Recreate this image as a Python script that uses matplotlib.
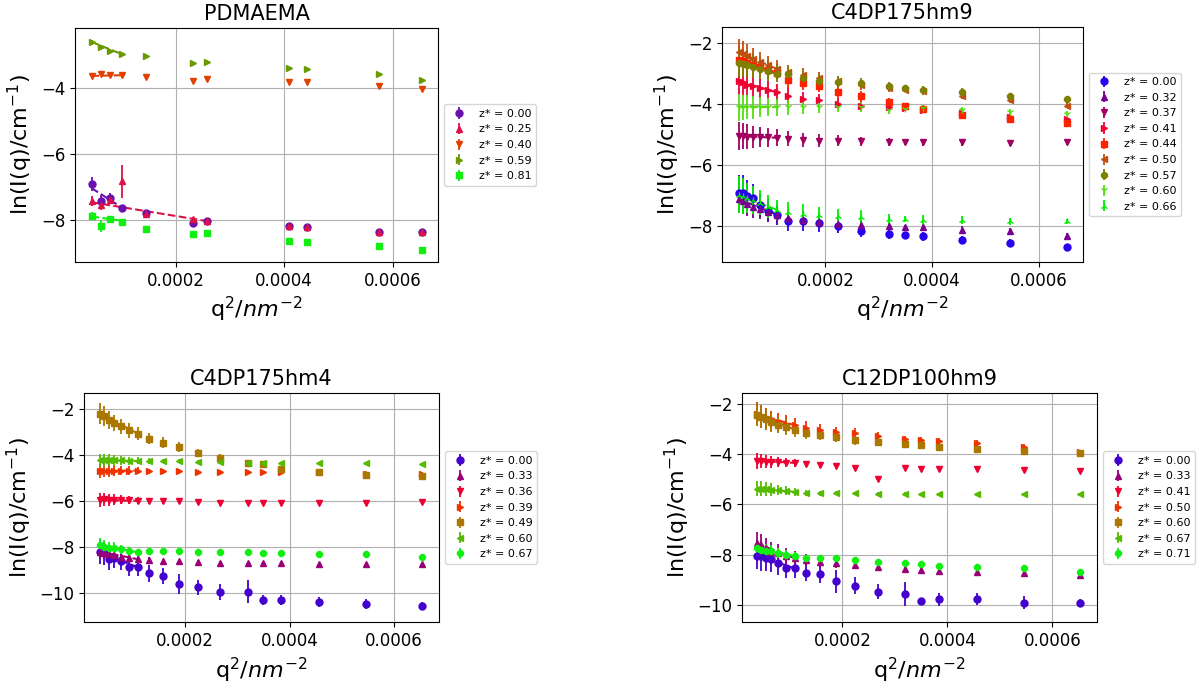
import matplotlib

matplotlib.use("Agg")
import matplotlib.pyplot as plt

# ---- PDMAEMA ----
q_pdmaema = [4.54e-5, 6.28e-5, 8.01e-5, 1.011e-4, 1.462e-4, 2.315e-4,
             2.575e-4, 4.09e-4, 4.417e-4, 5.74e-4, 6.53e-4]
labels_pdmaema = ["z* = 0.00", "z* = 0.25", "z* = 0.40", "z* = 0.59", "z* = 0.81"]
pdmaema_000 = [-6.91, -7.43, -7.33, -7.62, -7.80, -8.10, -8.03, -8.17, -8.21, -8.35, -8.35]
pdmaema_025 = [-7.43, -7.55, -7.38, -6.82, -7.82, -7.97, -8.03, -8.17, -8.21, -8.35, -8.35]
pdmaema_040 = [-3.63, -3.58, -3.61, -3.61, -3.66, -3.77, -3.71, -3.81, -3.82, -3.94, -4.04]
pdmaema_059 = [-2.61, -2.76, -2.88, -2.97, -3.03, -3.24, -3.20, -3.39, -3.43, -3.58, -3.74]
pdmaema_081 = [-7.89, -8.17, -7.97, -8.05, -8.26, -8.42, -8.40, -8.64, -8.67, -8.79, -8.90]
err_pdmaema_000 = [0.22, 0.18, 0.15, 0.08, 0.05, 0.05, 0.05, 0.04, 0.04, 0.04, 0.04]
err_pdmaema_025 = [0.15, 0.15, 0.12, 0.50, 0.05, 0.05, 0.05, 0.04, 0.04, 0.04, 0.04]
err_pdmaema_top = [0.07, 0.06, 0.05, 0.04, 0.04, 0.04, 0.04, 0.03, 0.03, 0.03, 0.03]
err_pdmaema_081 = [0.12, 0.18, 0.08, 0.06, 0.05, 0.05, 0.05, 0.04, 0.04, 0.04, 0.04]
fit_pdmaema_end = [3, 6, 3, 3, 3]
fit_pdmaema_y0 = [-7.03, -7.46, -3.63, -2.60, -7.89]
fit_pdmaema_y1 = [-7.62, -8.03, -3.61, -2.97, -8.02]

# ---- shared q grid of the three copolymer samples ----
q_copolymer = [3.7e-5, 4.5e-5, 5.35e-5, 6.35e-5, 7.65e-5, 9.15e-5, 1.09e-4, 1.30e-4,
               1.575e-4, 1.88e-4, 2.24e-4, 2.67e-4, 3.2e-4, 3.495e-4, 3.83e-4,
               4.57e-4, 5.46e-4, 6.53e-4]

# ---- C4DP175hm9 ----
labels_hm9 = ["z* = 0.00", "z* = 0.32", "z* = 0.37", "z* = 0.41", "z* = 0.44",
              "z* = 0.50", "z* = 0.57", "z* = 0.60", "z* = 0.66"]
hm9_000 = [-6.93, -6.93, -7.01, -7.09, -7.31, -7.50, -7.64, -7.84, -7.84, -7.92, -8.02, -8.16,
           -8.27, -8.31, -8.35, -8.48, -8.57, -8.69]
hm9_032 = [-7.12, -7.20, -7.29, -7.37, -7.46, -7.54, -7.64, -7.75, -7.81, -7.87, -7.94, -7.98,
           -8.02, -8.05, -8.05, -8.13, -8.16, -8.33]
hm9_037 = [-5.05, -5.06, -5.07, -5.08, -5.09, -5.10, -5.11, -5.14, -5.18, -5.20, -5.20, -5.23,
           -5.25, -5.26, -5.26, -5.26, -5.29, -5.26]
hm9_041 = [-3.24, -3.29, -3.38, -3.42, -3.49, -3.53, -3.62, -3.73, -3.83, -3.88, -3.99, -4.06,
           -4.10, -4.14, -4.19, -4.30, -4.43, -4.50]
hm9_044 = [-2.55, -2.60, -2.66, -2.72, -2.80, -2.88, -2.97, -3.21, -3.31, -3.42, -3.61, -3.75,
           -3.95, -4.06, -4.17, -4.36, -4.48, -4.61]
hm9_050 = [-2.30, -2.36, -2.44, -2.52, -2.62, -2.73, -2.85, -2.96, -3.04, -3.15, -3.26, -3.37,
           -3.48, -3.53, -3.59, -3.73, -3.86, -4.06]
hm9_057 = [-2.66, -2.69, -2.73, -2.77, -2.85, -2.93, -3.01, -3.01, -3.15, -3.23, -3.27, -3.31,
           -3.40, -3.48, -3.53, -3.61, -3.73, -3.84]
hm9_060 = [-4.11, -4.11, -4.11, -4.11, -4.11, -4.11, -4.11, -4.11, -4.11, -4.10, -4.10, -4.11,
           -4.19, -4.15, -4.14, -4.21, -4.28, -4.32]
hm9_066 = [-6.98, -7.02, -7.08, -7.15, -7.24, -7.37, -7.48, -7.56, -7.62, -7.64, -7.67, -7.70,
           -7.78, -7.78, -7.81, -7.81, -7.86, -7.86]
err_hm9_low = [0.60, 0.60, 0.50, 0.45, 0.40, 0.38, 0.33, 0.33, 0.33, 0.27, 0.22, 0.22, 0.16,
               0.09, 0.16, 0.13, 0.13, 0.09]
err_hm9_top = [0.45, 0.42, 0.40, 0.37, 0.33, 0.30, 0.28, 0.25, 0.22, 0.20, 0.18, 0.16, 0.13,
               0.08, 0.12, 0.12, 0.10, 0.08]
fit_hm9_y0 = [-6.90, -7.12, -5.05, -3.25, -2.55, -2.30, -2.66, -4.11, -6.98]
fit_hm9_y1 = [-7.64, -7.64, -5.11, -3.62, -2.97, -2.85, -3.01, -4.11, -7.48]

# ---- C4DP175hm4 ----
labels_hm4 = ["z* = 0.00", "z* = 0.33", "z* = 0.36", "z* = 0.39", "z* = 0.49",
              "z* = 0.60", "z* = 0.67"]
hm4_000 = [-8.21, -8.25, -8.50, -8.47, -8.59, -8.87, -8.86, -9.13, -9.24, -9.58, -9.73, -9.93,
           -9.93, -10.27, -10.29, -10.38, -10.46, -10.53]
hm4_033 = [-8.18, -8.22, -8.28, -8.34, -8.40, -8.47, -8.51, -8.54, -8.60, -8.61, -8.63, -8.67,
           -8.69, -8.69, -8.69, -8.73, -8.73, -8.74]
hm4_036 = [-5.94, -5.91, -5.93, -5.93, -5.93, -5.94, -5.97, -5.97, -6.00, -6.00, -6.04, -6.06,
           -6.06, -6.06, -6.07, -6.07, -6.06, -6.04]
hm4_039 = [-4.67, -4.67, -4.66, -4.66, -4.66, -4.66, -4.66, -4.69, -4.69, -4.69, -4.70, -4.70,
           -4.71, -4.73, -4.73, -4.71, -4.79, -4.82]
hm4_049 = [-2.19, -2.30, -2.48, -2.59, -2.74, -2.91, -3.05, -3.27, -3.44, -3.63, -3.88, -4.11,
           -4.33, -4.38, -4.57, -4.72, -4.83, -4.89]
hm4_060 = [-4.22, -4.22, -4.22, -4.22, -4.22, -4.24, -4.24, -4.25, -4.25, -4.25, -4.28, -4.30,
           -4.31, -4.31, -4.32, -4.35, -4.35, -4.38]
hm4_067 = [-7.89, -7.96, -8.01, -8.01, -8.08, -8.15, -8.21, -8.17, -8.17, -8.17, -8.18, -8.20,
           -8.21, -8.24, -8.24, -8.28, -8.28, -8.41]
err_hm4_low = [0.53, 0.50, 0.48, 0.43, 0.40, 0.36, 0.36, 0.36, 0.36, 0.43, 0.32, 0.36, 0.50,
               0.22, 0.22, 0.22, 0.22, 0.14]
err_hm4_top = [0.46, 0.43, 0.39, 0.36, 0.32, 0.32, 0.29, 0.25, 0.22, 0.22, 0.17, 0.17, 0.14,
               0.12, 0.12, 0.14, 0.14, 0.12]
err_hm4_flat = [0.30, 0.28, 0.26, 0.24, 0.20, 0.18, 0.15, 0.12, 0.10, 0.08, 0.07, 0.06, 0.06,
                0.05, 0.05, 0.05, 0.05, 0.05]
fit_hm4_y0 = [-8.21, -8.18, -5.94, -4.67, -2.19, -4.22, -7.90]
fit_hm4_y1 = [-8.86, -8.51, -5.97, -4.66, -3.05, -4.24, -8.21]

# ---- C12DP100hm9 ----
labels_c12 = ["z* = 0.00", "z* = 0.33", "z* = 0.41", "z* = 0.50", "z* = 0.60",
              "z* = 0.67", "z* = 0.71"]
c12_000 = [-8.03, -8.05, -8.11, -8.17, -8.31, -8.54, -8.54, -8.71, -8.77, -9.06, -9.23, -9.47,
           -9.56, -9.83, -9.76, -9.75, -9.91, -9.93]
c12_033 = [-7.55, -7.61, -7.74, -7.88, -7.94, -8.05, -8.14, -8.21, -8.27, -8.31, -8.40, -8.50,
           -8.57, -8.60, -8.63, -8.68, -8.73, -8.81]
c12_041 = [-4.28, -4.28, -4.31, -4.31, -4.31, -4.35, -4.35, -4.40, -4.44, -4.47, -4.54, -5.01,
           -4.57, -4.59, -4.59, -4.61, -4.64, -4.67]
c12_050 = [-2.40, -2.50, -2.59, -2.69, -2.73, -2.79, -2.86, -2.96, -3.03, -3.12, -3.16, -3.28,
           -3.40, -3.43, -3.47, -3.58, -3.72, -3.94]
c12_060 = [-2.44, -2.53, -2.63, -2.73, -2.83, -2.92, -3.03, -3.16, -3.23, -3.33, -3.45, -3.52,
           -3.61, -3.65, -3.72, -3.81, -3.89, -3.95]
c12_067 = [-5.37, -5.37, -5.39, -5.41, -5.43, -5.46, -5.50, -5.53, -5.56, -5.56, -5.56, -5.58,
           -5.58, -5.59, -5.60, -5.60, -5.60, -5.59]
c12_071 = [-7.74, -7.81, -7.84, -7.84, -7.94, -8.01, -8.05, -8.11, -8.14, -8.14, -8.21, -8.30,
           -8.34, -8.38, -8.44, -8.47, -8.51, -8.67]
err_c12_low = [0.53, 0.59, 0.53, 0.53, 0.50, 0.40, 0.40, 0.33, 0.37, 0.46, 0.33, 0.29, 0.46,
               0.10, 0.26, 0.24, 0.26, 0.16]
err_c12_top = [0.46, 0.45, 0.42, 0.38, 0.35, 0.32, 0.28, 0.25, 0.22, 0.20, 0.18, 0.15, 0.13,
               0.10, 0.12, 0.12, 0.10, 0.08]
err_c12_flat = [0.30, 0.28, 0.26, 0.24, 0.20, 0.18, 0.15, 0.12, 0.10, 0.08, 0.07, 0.06, 0.06,
                0.05, 0.05, 0.05, 0.05, 0.05]
fit_c12_y0 = [-8.03, -7.55, -4.28, -2.40, -2.44, -5.37, -7.74]
fit_c12_y1 = [-8.54, -8.14, -4.35, -2.86, -3.03, -5.50, -8.05]

MARKERS = ["o", "^", "v", ">", "s", "<", "8", "1", "2"]


def draw_panel(axis, title, q, series, errors, labels, colors, fit_end, fit_y0, fit_y1,
               markers, xlim, ylim, yticks):
    for i, values in enumerate(series):
        axis.errorbar(
            q,
            values,
            yerr=errors[i],
            fmt=markers[i],
            color=colors[i],
            markersize=5,
            elinewidth=1.3,
            label=labels[i],
        )
        end = fit_end[i]
        axis.plot(
            [q[0], q[end]],
            [fit_y0[i], fit_y1[i]],
            linestyle="--",
            linewidth=1.5,
            color=colors[i],
        )

    axis.set_title(title, fontsize=15)
    axis.set_xlim(*xlim)
    axis.set_ylim(*ylim)
    axis.set_xticks([0.0002, 0.0004, 0.0006])
    axis.set_xticklabels(["0.0002", "0.0004", "0.0006"])
    axis.set_yticks(yticks)
    axis.tick_params(labelsize=12)
    axis.set_xlabel(r"q$^2$/$nm^{-2}$", fontsize=16)
    axis.set_ylabel(r"ln(I(q)/cm$^{-1}$)", fontsize=16)
    axis.grid(True)
    axis.legend(
        loc="center left",
        bbox_to_anchor=(1.0, 0.5),
        fontsize=8,
    )


def main():
    figure = plt.figure(figsize=(11.98, 6.84), dpi=100)

    ax1 = figure.add_axes([0.0626, 0.617, 0.303, 0.342])
    ax2 = figure.add_axes([0.6027, 0.617, 0.3013, 0.3436])
    ax3 = figure.add_axes([0.0701, 0.0906, 0.2963, 0.3348])
    ax4 = figure.add_axes([0.6194, 0.0906, 0.2963, 0.3348])

    draw_panel(
        ax1, "PDMAEMA", q_pdmaema,
        [pdmaema_000, pdmaema_025, pdmaema_040, pdmaema_059, pdmaema_081],
        [err_pdmaema_000, err_pdmaema_025, err_pdmaema_top, err_pdmaema_top, err_pdmaema_081],
        labels_pdmaema,
        ["#6a10b0", "#dd1148", "#e04000", "#6a9a00", "#11ee11"],
        fit_pdmaema_end, fit_pdmaema_y0, fit_pdmaema_y1,
        ["o", "^", "v", ">", "s"],
        (1.5e-5, 6.83e-4), (-9.27, -2.18), [-8, -6, -4],
    )

    draw_panel(
        ax2, "C4DP175hm9", q_copolymer,
        [hm9_000, hm9_032, hm9_037, hm9_041, hm9_044, hm9_050, hm9_057, hm9_060, hm9_066],
        [err_hm9_low, err_hm9_top, err_hm9_top, err_hm9_top, err_hm9_top, err_hm9_top,
         err_hm9_top, err_hm9_top, err_hm9_low],
        labels_hm9,
        ["#2a00ee", "#7a0090", "#a00060", "#ee0033", "#ff2200", "#c05010", "#808000",
         "#55dd11", "#00ee00"],
        [6] * 9, fit_hm9_y0, fit_hm9_y1,
        MARKERS,
        (6.0e-6, 6.83e-4), (-9.19, -1.47), [-8, -6, -4, -2],
    )

    draw_panel(
        ax3, "C4DP175hm4", q_copolymer,
        [hm4_000, hm4_033, hm4_036, hm4_039, hm4_049, hm4_060, hm4_067],
        [err_hm4_low, err_hm4_flat, err_hm4_flat, err_hm4_flat, err_hm4_top, err_hm4_flat,
         err_hm4_flat],
        labels_hm4,
        ["#4400cc", "#990077", "#ee0033", "#ee3300", "#aa7700", "#55bb00", "#11ee11"],
        [6] * 7, fit_hm4_y0, fit_hm4_y1,
        MARKERS,
        (6.1e-6, 6.86e-4), (-11.24, -1.29), [-10, -8, -6, -4, -2],
    )

    draw_panel(
        ax4, "C12DP100hm9", q_copolymer,
        [c12_000, c12_033, c12_041, c12_050, c12_060, c12_067, c12_071],
        [err_c12_low, err_c12_top, err_c12_flat, err_c12_top, err_c12_top, err_c12_flat,
         err_c12_flat],
        labels_c12,
        ["#4400cc", "#990077", "#ee0033", "#ee3300", "#aa7700", "#55bb00", "#11ee11"],
        [6] * 7, fit_c12_y0, fit_c12_y1,
        MARKERS,
        (8.6e-6, 6.85e-4), (-10.67, -1.58), [-10, -8, -6, -4, -2],
    )

    figure.savefig("out.png", dpi=100)
    plt.close(figure)


if __name__ == "__main__":
    main()
